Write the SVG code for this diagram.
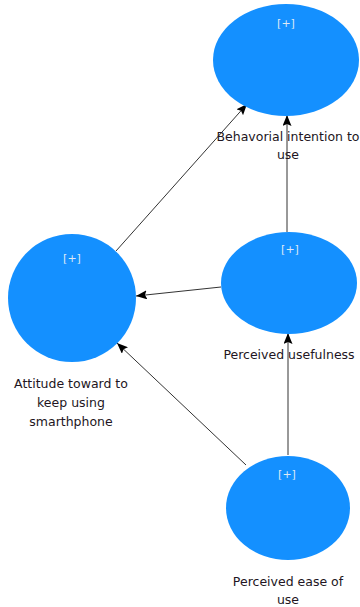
<svg xmlns="http://www.w3.org/2000/svg" width="360" height="607" viewBox="0 0 360 607">
<style>
.n{fill:#1490FF;}
.p{font-family:"DejaVu Sans",sans-serif;font-size:11px;fill:#dfe9f5;text-anchor:middle;}
.l{font-family:"DejaVu Sans",sans-serif;font-size:12.5px;fill:#221522;text-anchor:middle;}
.c{stroke:#333;stroke-width:1;fill:none;marker-end:url(#a);}
</style>
<defs>
<marker id="a" markerWidth="11" markerHeight="9" refX="11" refY="4.5" orient="auto" markerUnits="userSpaceOnUse">
<path d="M0,0 L11,4.5 L0,9 L2,4.5 Z" fill="#000"/>
</marker>
</defs>
<g id="connectors">
<line class="c" x1="116" y1="251" x2="247" y2="104"/>
<line class="c" x1="287" y1="232" x2="287" y2="115"/>
<line class="c" x1="221" y1="287" x2="136" y2="296"/>
<line class="c" x1="288" y1="455" x2="288" y2="333"/>
<line class="c" x1="246" y1="465" x2="117" y2="343"/>
</g>
<g id="bi">
<ellipse class="n" cx="286" cy="60" rx="73" ry="56"/>
<text class="p" x="286" y="27">[+]</text>
<text class="l" x="288" y="141">Behavorial intention to</text>
<text class="l" x="288" y="159">use</text>
</g>
<g id="att">
<ellipse class="n" cx="72" cy="298" rx="64" ry="64"/>
<text class="p" x="72" y="262">[+]</text>
<text class="l" x="71" y="388">Attitude toward to</text>
<text class="l" x="71" y="407">keep using</text>
<text class="l" x="71" y="426">smarthphone</text>
</g>
<g id="pu">
<ellipse class="n" cx="289" cy="283" rx="68" ry="51"/>
<text class="p" x="290" y="253">[+]</text>
<text class="l" x="289" y="359">Perceived usefulness</text>
</g>
<g id="peou">
<ellipse class="n" cx="288" cy="508" rx="62" ry="52"/>
<text class="p" x="287" y="478">[+]</text>
<text class="l" x="288" y="586">Perceived ease of</text>
<text class="l" x="288" y="604">use</text>
</g>
</svg>
